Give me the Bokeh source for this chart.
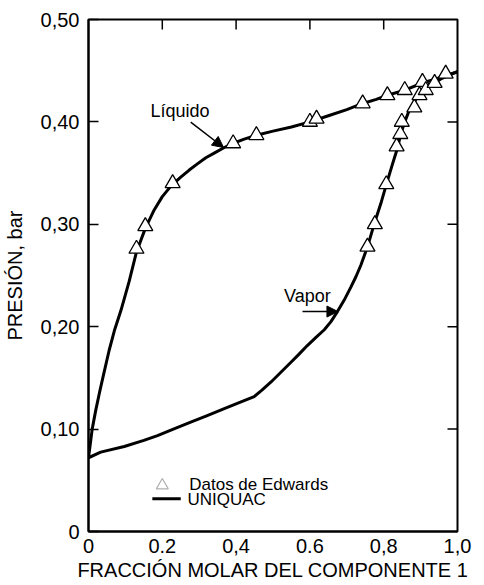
import math
from bokeh.plotting import figure
from bokeh.models import (Range1d, FixedTicker, Arrow, NormalHead, CustomJSTickFormatter)
from bokeh.embed import file_html
from bokeh.resources import INLINE
from bokeh.core.properties import value

# ---------------- data ----------------
# UNIQUAC liquid curve
liq_curve_x = [0.000, 0.005, 0.010, 0.020, 0.030, 0.040, 0.056, 0.070, 0.088, 0.110,
               0.130, 0.154, 0.178, 0.200, 0.225, 0.250, 0.273, 0.295, 0.318, 0.343,
               0.368, 0.392, 0.420, 0.455, 0.500, 0.550, 0.600, 0.650, 0.700, 0.743,
               0.780, 0.810, 0.857, 0.905, 0.950, 1.000]
liq_curve_y = [0.072, 0.086, 0.100, 0.119, 0.136, 0.152, 0.177, 0.196, 0.216, 0.244,
               0.273, 0.296, 0.314, 0.327, 0.338, 0.346, 0.353, 0.359, 0.365, 0.370,
               0.375, 0.379, 0.383, 0.387, 0.391, 0.395, 0.400, 0.406, 0.412, 0.418,
               0.422, 0.426, 0.431, 0.438, 0.443, 0.449]
# UNIQUAC vapor curve
vap_curve_x = [0.000, 0.033, 0.097, 0.150, 0.187, 0.230, 0.277, 0.320, 0.368, 0.410,
               0.449, 0.470, 0.494, 0.520, 0.548, 0.570, 0.593, 0.615, 0.639, 0.657,
               0.675, 0.693, 0.711, 0.725, 0.738, 0.756, 0.774, 0.792, 0.808, 0.824,
               0.837, 0.847, 0.858, 0.869, 0.880, 0.892, 0.905, 0.919, 0.937, 0.955,
               0.978, 1.000]
vap_curve_y = [0.072, 0.0775, 0.083, 0.089, 0.0937, 0.100, 0.1068, 0.113, 0.120, 0.126,
               0.1318, 0.138, 0.1458, 0.155, 0.165, 0.173, 0.1816, 0.189, 0.197, 0.205,
               0.215, 0.226, 0.2386, 0.249, 0.260, 0.278, 0.300, 0.320, 0.340, 0.359,
               0.374, 0.389, 0.401, 0.411, 0.418, 0.4245, 0.430, 0.434, 0.438, 0.442,
               0.446, 0.449]

# Datos de Edwards (triangles)
liq_pts_x = [0.130, 0.154, 0.228, 0.392, 0.455, 0.600, 0.618, 0.743, 0.810, 0.857, 0.905, 0.968]
liq_pts_y = [0.276, 0.298, 0.340, 0.379, 0.387, 0.400, 0.403, 0.418, 0.426, 0.431, 0.439, 0.447]
vap_pts_x = [0.756, 0.776, 0.807, 0.835, 0.845, 0.849, 0.883, 0.897, 0.914, 0.938]
vap_pts_y = [0.278, 0.300, 0.339, 0.376, 0.388, 0.400, 0.414, 0.426, 0.431, 0.438]

# ticks
x_ticks = [0.0, 0.2, 0.4, 0.6, 0.8, 1.0]
x_tick_labels = ["0", "0.2", "0,4", "0.6", "0,8", "1,0"]
y_ticks = [0.0, 0.1, 0.2, 0.3, 0.4, 0.5]
y_tick_labels = ["0", "0,10", "0,20", "0,30", "0,40", "0,50"]
top_ticks = [0.2, 0.4, 0.6, 0.8]
right_ticks = [0.1, 0.2, 0.3, 0.4]

x_title = "FRACCIÓN MOLAR DEL COMPONENTE 1"
y_title = "PRESIÓN, bar"

# annotations: curve labels and their arrows
note_texts = ["Líquido", "Vapor"]
note_x = [0.168, 0.530]
note_y = [0.4104, 0.2297]
arrow_x0 = [0.277, 0.580]
arrow_y0 = [0.3997, 0.2148]
arrow_x1 = [0.366, 0.676]
arrow_y1 = [0.3750, 0.2148]

# legend
legend_texts = ["Datos de Edwards", "UNIQUAC"]
legend_text_x = [0.273, 0.268]
legend_text_y = [0.0457, 0.0311]
legend_marker_x = [0.200]
legend_marker_y = [0.045]
legend_line_x = [0.173, 0.250]
legend_line_y = [0.032, 0.032]

FONT = "Liberation Sans"

# ---------------- figure ----------------
p = figure(frame_width=369, frame_height=512, x_range=Range1d(0, 1), y_range=Range1d(0, 0.5),
           output_backend="svg", toolbar_location=None,
           min_border_left=83, min_border_right=16, min_border_top=19, min_border_bottom=50,
           x_axis_label=x_title, y_axis_label=y_title)
p.grid.visible = False
p.outline_line_color = "black"
p.outline_line_width = 2
p.background_fill_color = "white"
p.border_fill_color = "white"

def fmt(labels):
    return CustomJSTickFormatter(args=dict(labels=labels), code="return labels[index];")

xa = p.xaxis[0]
xa.ticker = FixedTicker(ticks=x_ticks)
xa.formatter = fmt(x_tick_labels)
xa.major_tick_in = 0
xa.major_tick_out = 0
xa.minor_tick_in = 0
xa.minor_tick_out = 0
xa.major_label_standoff = 7
xa.axis_label_standoff = 3

ya = p.yaxis[0]
ya.ticker = FixedTicker(ticks=y_ticks)
ya.formatter = fmt(y_tick_labels)
ya.major_tick_in = 10
ya.major_tick_out = 0
ya.minor_tick_in = 0
ya.minor_tick_out = 0
ya.major_label_standoff = 9
ya.axis_label_standoff = 12

for ax in (xa, ya):
    ax.axis_line_width = 2
    ax.major_tick_line_width = 1.5
    ax.major_label_text_font = FONT
    ax.major_label_text_font_size = "20px"
    ax.major_label_text_color = "black"
    ax.axis_label_text_font = FONT
    ax.axis_label_text_font_size = "20px"
    ax.axis_label_text_font_style = "normal"
    ax.axis_label_text_color = "black"

# inward tick marks on the top and right edges (10 px rays)
p.ray(top_ticks, [y_ticks[-1]] * len(top_ticks), length=10, length_units="screen",
      angle=-math.pi / 2, line_color="black", line_width=1.5)
p.ray([x_ticks[-1]] * len(right_ticks), right_ticks, length=10, length_units="screen",
      angle=math.pi, line_color="black", line_width=1.5)

# curves
p.line(liq_curve_x, liq_curve_y, line_color="black", line_width=3, line_join="round")
p.line(vap_curve_x, vap_curve_y, line_color="black", line_width=3, line_join="round")

# data points
p.scatter(liq_pts_x, liq_pts_y, marker="triangle", size=15, fill_color="white",
          line_color="black", line_width=1.3)
p.scatter(vap_pts_x, vap_pts_y, marker="triangle", size=15, fill_color="white",
          line_color="black", line_width=1.3)

# curve labels
p.text(note_x, note_y, text=note_texts, text_font=value(FONT), text_font_size="18px",
       text_baseline="middle", text_align="left", text_color="black")
for i in range(len(arrow_x0)):
    p.add_layout(Arrow(end=NormalHead(size=11, fill_color="black", line_color="black"),
                       x_start=arrow_x0[i], y_start=arrow_y0[i],
                       x_end=arrow_x1[i], y_end=arrow_y1[i],
                       line_color="black", line_width=1.5))

# legend (drawn by hand, as in the original)
p.scatter(legend_marker_x, legend_marker_y, marker="triangle", size=12, fill_color="white",
          line_color="#b0b0b0", line_width=1.2)
p.line(legend_line_x, legend_line_y, line_color="black", line_width=3)
p.text(legend_text_x, legend_text_y, text=legend_texts, text_font=value(FONT),
       text_font_size="17px", text_baseline="middle", text_align="left", text_color="black")

open("out.html", "w").write(file_html(p, INLINE))
